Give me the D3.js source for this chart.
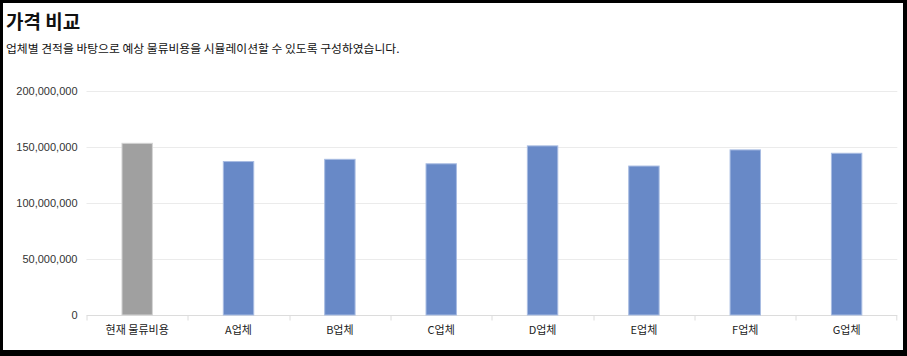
<!DOCTYPE html>
<html>
<head>
<meta charset="utf-8">
<script src="https://cdn.jsdelivr.net/npm/d3@7"></script>
<style>
  html, body { margin: 0; padding: 0; background: #000; }
  #frame { position: absolute; left: 3px; top: 3px; width: 900px; height: 347px; background: #fff; }
  .title { position: absolute; left: 3px; top: 4px; font-family: "Noto Sans CJK KR", sans-serif; font-size: 19px; font-weight: bold; color: #111; }
  .sub { position: absolute; left: 3px; top: 36px; font-family: "Noto Sans CJK KR", sans-serif; font-size: 11.8px; color: #111; }
  svg { position: absolute; left: -3px; top: -3px; }
</style>
</head>
<body>
<div id="frame">
  <div class="title">가격 비교</div>
  <div class="sub">업체별 견적을 바탕으로 예상 물류비용을 시뮬레이션할 수 있도록 구성하였습니다.</div>
  <div id="chart"></div>
</div>
<script>
var categories = ["현재 물류비용", "A업체", "B업체", "C업체", "D업체", "E업체", "F업체", "G업체"];
var costs = [153300000, 137000000, 139000000, 135000000, 151000000, 133000000, 147400000, 144400000];
var yTicks = [0, 50000000, 100000000, 150000000, 200000000];

var margin = {top: 91, right: 10, bottom: 41, left: 86.5},
    width = 897.3 - margin.left,
    height = 315 - margin.top;

var svg = d3.select("#chart").append("svg")
    .attr("width", 907)
    .attr("height", 356)
  .append("g")
    .attr("transform", "translate(" + margin.left + "," + margin.top + ")");

var x = d3.scaleBand()
    .domain(categories)
    .range([0, width]);

var y = d3.scaleLinear()
    .domain([0, 200000000])
    .range([height, 0]);

// grid lines
svg.append("g")
    .selectAll("line")
    .data(yTicks.slice(1))
  .enter().append("line")
    .attr("x1", 0)
    .attr("x2", width)
    .attr("y1", function(d) { return Math.round(y(d)) + 0.5; })
    .attr("y2", function(d) { return Math.round(y(d)) + 0.5; })
    .attr("stroke", "#ebebeb");

// y axis labels
var yAxis = svg.append("g")
    .attr("class", "y-axis")
    .style("font-family", "Liberation Sans, Arial, sans-serif")
    .style("font-size", "11px")
    .call(d3.axisLeft(y).tickValues(yTicks).tickFormat(d3.format(",")).tickSize(0).tickPadding(9));
yAxis.select(".domain").remove();
yAxis.selectAll("text").attr("fill", "#333");

// x axis
var xAxis = svg.append("g")
    .attr("class", "x-axis")
    .attr("transform", "translate(0," + (height + 0.5) + ")");

xAxis.append("line")
    .attr("x1", 0).attr("x2", width)
    .attr("stroke", "#dcdcdc");

xAxis.selectAll(".tick-line")
    .data(categories.concat(["end"]))
  .enter().append("line")
    .attr("x1", function(d, i) { return i < categories.length ? Math.round(x(d)) + 0.5 : width - 0.5; })
    .attr("x2", function(d, i) { return i < categories.length ? Math.round(x(d)) + 0.5 : width - 0.5; })
    .attr("y1", 0).attr("y2", 5)
    .attr("stroke", "#dcdcdc");

xAxis.selectAll("text")
    .data(categories)
  .enter().append("text")
    .attr("x", function(d) { return x(d) + x.bandwidth() / 2; })
    .attr("y", 18)
    .attr("text-anchor", "middle")
    .style("font-family", "Noto Sans CJK KR, sans-serif")
    .style("font-size", "11px")
    .attr("fill", "#222")
    .text(function(d) { return d; });

// bars
var barW = x.bandwidth() * 0.3;
svg.selectAll(".bar")
    .data(costs)
  .enter().append("rect")
    .attr("class", "bar")
    .attr("x", function(d, i) { return x(categories[i]) + x.bandwidth() / 2 - barW / 2; })
    .attr("y", function(d) { return y(d); })
    .attr("width", barW)
    .attr("height", function(d) { return height - y(d); })
    .attr("fill", function(d, i) { return i === 0 ? "#a0a0a0" : "#6889c7"; })
    .attr("stroke", function(d, i) { return i === 0 ? "#d4d4d4" : "#a8bce2"; })
    .attr("stroke-width", 1);
</script>
</body>
</html>
